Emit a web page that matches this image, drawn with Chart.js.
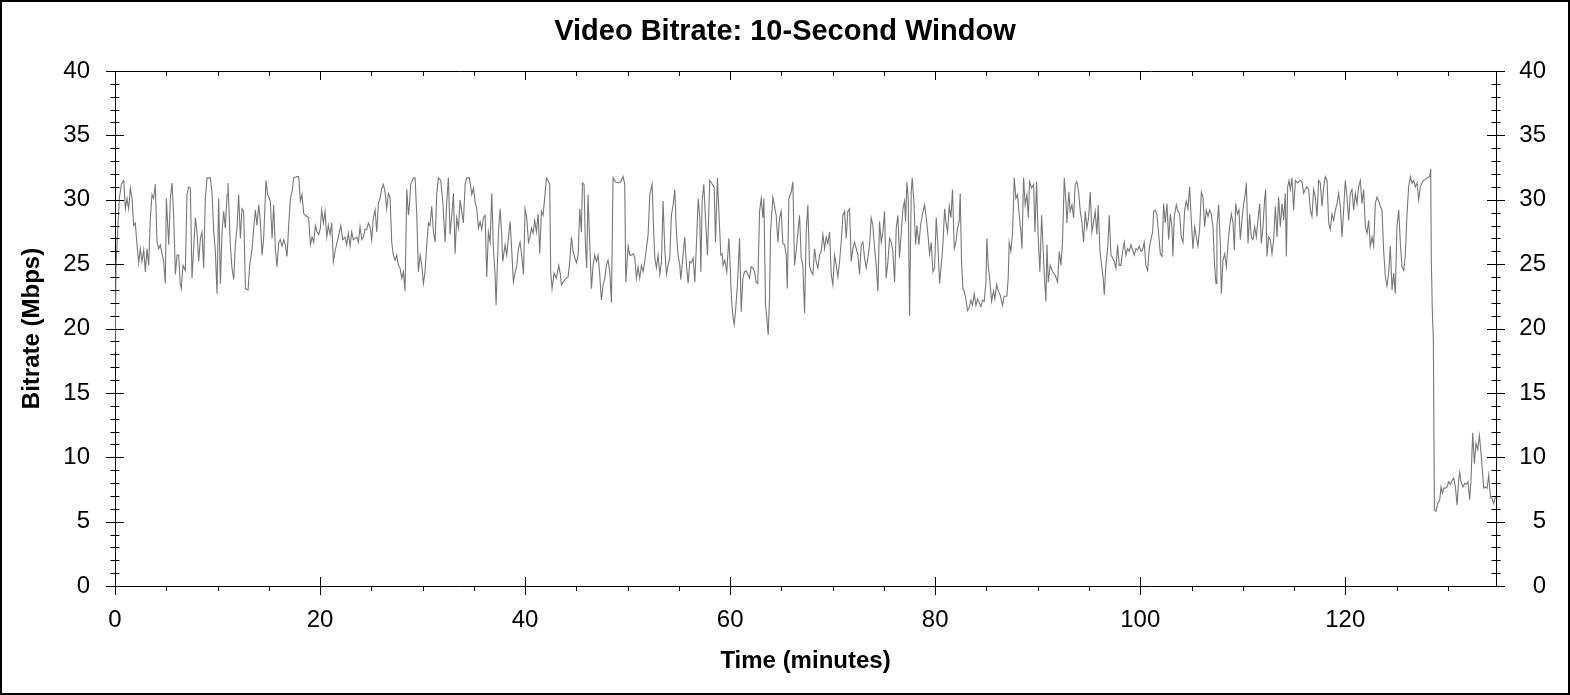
<!DOCTYPE html>
<html>
<head>
<meta charset="utf-8">
<title>Video Bitrate: 10-Second Window</title>
<script src="https://cdn.jsdelivr.net/npm/chart.js@4.4.1/dist/chart.umd.min.js"></script>
<style>
  html, body { margin: 0; padding: 0; background: #fff; }
  canvas { display: block; }
</style>
</head>
<body>
<canvas id="bitrateChart" width="1570" height="695"></canvas>
<script>
// Time axis (minutes) and bitrate samples (Mbps)
const minutes = [
  0.00, 0.10, 0.29, 0.42, 0.62, 0.85, 1.01, 1.17, 1.33, 1.50,
  1.66, 1.82, 1.98, 2.15, 2.31, 2.47, 2.63, 2.80, 2.96, 3.12,
  3.28, 3.45, 3.61, 3.77, 3.93, 4.10, 4.26, 4.42, 4.59, 4.75,
  4.91, 5.01, 5.24, 5.40, 5.56, 5.72, 5.89, 6.05, 6.21, 6.37,
  6.47, 6.63, 6.86, 7.02, 7.19, 7.35, 7.51, 7.67, 7.84, 8.00,
  8.16, 8.33, 8.49, 8.65, 8.81, 8.98, 9.30, 9.46, 9.63, 9.79,
  9.95, 10.11, 10.28, 10.44, 10.60, 10.76, 10.93, 11.02, 11.25, 11.41,
  11.58, 11.74, 11.90, 12.06, 12.23, 12.39, 12.55, 12.72, 12.98, 13.14,
  13.37, 13.53, 13.69, 13.85, 14.02, 14.18, 14.34, 14.50, 14.73, 14.89,
  15.15, 15.32, 15.48, 15.64, 15.80, 15.97, 16.13, 16.29, 16.46, 16.62,
  16.78, 16.94, 17.11, 17.27, 17.43, 17.76, 17.92, 18.08, 18.24, 18.41,
  18.57, 18.89, 19.06, 19.22, 19.38, 19.54, 19.71, 19.87, 20.03,
  // 20 - 40
  20.16, 20.33, 20.49, 20.65, 20.81, 20.98, 21.14, 21.30, 21.46, 21.63,
  21.79, 22.02, 22.21, 22.44, 22.60, 22.76, 22.93, 23.09, 23.25, 23.58,
  23.74, 23.90, 24.07, 24.23, 24.39, 24.55, 24.72, 24.88, 25.04, 25.20,
  25.37, 25.53, 25.69, 25.85, 26.02, 26.18, 26.34, 26.50, 26.67, 26.83,
  26.99, 27.15, 27.32, 27.48, 27.64, 27.80, 27.97, 28.13, 28.29, 28.46,
  28.62, 28.72, 28.85, 29.11, 29.27, 29.43, 29.59, 29.76, 29.92, 30.08,
  30.24, 30.41, 30.57, 30.73, 30.89, 31.06, 31.22, 31.38, 31.54, 31.77,
  31.97, 32.20, 32.36, 32.52, 32.68, 32.85, 33.01, 33.17, 33.33, 33.50,
  33.66, 33.82, 33.98, 34.15, 34.31, 34.57, 34.80, 34.96, 35.12, 35.28,
  35.45, 35.61, 35.77, 35.93, 36.10, 36.26, 36.42, 36.59, 36.75, 36.91,
  37.07, 37.17, 37.40, 37.56, 37.72, 37.82, 38.05, 38.21, 38.37, 38.54,
  38.70, 38.86, 39.02, 39.19, 39.35, 39.51, 39.67, 39.84, 40.00, 40.16,
  40.33,
  // 40 - 60
  40.45, 40.62, 40.78, 40.94, 41.10, 41.27, 41.43, 41.59, 41.75, 41.92,
  42.08, 42.24, 42.40, 42.50, 42.63, 42.83, 43.05, 43.28, 43.44, 43.54,
  43.87, 44.19, 44.36, 44.52, 44.68, 44.84, 45.01, 45.17, 45.33, 45.49,
  45.59, 45.75, 45.88, 46.01, 46.14, 46.31, 46.47, 46.63, 46.79, 46.96,
  47.12, 47.28, 47.44, 47.61, 47.77, 47.93, 48.09, 48.26, 48.42, 48.58,
  48.81, 49.07, 49.33, 49.56, 49.72, 49.82, 50.05, 50.21, 50.37, 50.53,
  50.70, 50.86, 51.02, 51.18, 51.35, 51.51, 51.67, 51.83, 52.00, 52.16,
  52.39, 52.52, 52.65, 52.81, 52.97, 53.14, 53.30, 53.46, 53.62, 53.79,
  53.95, 54.11, 54.27, 54.44, 54.60, 54.76, 54.92, 55.09, 55.18, 55.41,
  55.57, 55.74, 55.90, 56.06, 56.22, 56.39, 56.55, 56.71, 56.88, 57.04,
  57.14, 57.27, 57.43, 57.59, 57.79, 58.01, 58.18, 58.44, 58.57, 58.76,
  58.99, 59.09, 59.22, 59.31, 59.48, 59.67, 59.87, 59.96, 60.13, 60.29,
  60.39, 60.52, 60.71,
  // 60 - 80
  60.92, 61.08, 61.24, 61.40, 61.57, 61.73, 61.89, 62.05, 62.22, 62.38,
  62.54, 62.70, 62.87, 63.03, 63.19, 63.29, 63.45, 63.58, 63.71, 63.84,
  63.94, 64.17, 64.33, 64.49, 64.66, 64.82, 64.98, 65.14, 65.31, 65.47,
  65.57, 65.73, 65.96, 66.12, 66.28, 66.44, 66.61, 66.77, 66.93, 67.09,
  67.26, 67.42, 67.58, 67.74, 67.91, 68.07, 68.23, 68.39, 68.56, 68.72,
  68.88, 69.05, 69.21, 69.37, 69.53, 69.70, 69.86, 70.02, 70.18, 70.35,
  70.51, 70.67, 70.83, 71.00, 71.16, 71.32, 71.48, 71.65, 71.81, 71.97,
  72.13, 72.30, 72.46, 72.62, 72.79, 72.95, 73.11, 73.27, 73.44, 73.60,
  73.76, 73.92, 74.09, 74.25, 74.41, 74.57, 74.74, 74.90, 75.06, 75.22,
  75.39, 75.55, 75.71, 75.87, 76.04, 76.20, 76.36, 76.52, 76.69, 76.85,
  77.01, 77.11, 77.24, 77.37, 77.50, 77.66, 77.76, 77.92, 78.09, 78.22,
  78.41, 78.57, 78.74, 78.96, 79.13, 79.29, 79.45, 79.61, 79.78, 79.94,
  80.10, 80.26, 80.43, 80.59, 80.75, 80.92,
  // 80 - 100
  81.04, 81.21, 81.37, 81.53, 81.69, 81.86, 82.02, 82.18, 82.34, 82.44,
  82.57, 82.70, 82.83, 82.99, 83.16, 83.32, 83.48, 83.64, 83.81, 83.97,
  84.13, 84.29, 84.46, 84.62, 84.78, 84.95, 85.04, 85.17, 85.37, 85.50,
  85.69, 85.82, 85.99, 86.15, 86.34, 86.57, 86.73, 86.99, 87.12, 87.22,
  87.38, 87.55, 87.71, 87.87, 88.03, 88.20, 88.36, 88.46, 88.62, 88.78,
  88.95, 89.08, 89.21, 89.40, 89.60, 89.73, 89.89, 90.05, 90.21, 90.38,
  90.51, 90.64, 90.80, 90.90, 91.03, 91.22, 91.45, 91.68, 91.94, 92.10,
  92.26, 92.42, 92.59, 92.75, 92.85, 93.04, 93.17, 93.34, 93.50, 93.66,
  93.82, 93.99, 94.15, 94.31, 94.47, 94.64, 94.80, 94.96, 95.12, 95.29,
  95.45, 95.61, 95.77, 95.90, 96.07, 96.23, 96.39, 96.49, 96.65, 96.82,
  96.98, 97.14, 97.30, 97.47, 97.63, 97.79, 97.95, 98.12, 98.28, 98.44,
  98.60, 98.77, 98.93, 99.09, 99.25, 99.42, 99.58, 99.74, 99.90, 100.07,
  100.23, 100.39, 100.55, 100.72, 100.88, 101.04, 101.21,
  // 100 - end
  101.31, 101.47, 101.63, 101.79, 101.96, 102.12, 102.28, 102.44, 102.61, 102.77,
  102.93, 103.09, 103.19, 103.32, 103.52, 103.68, 103.84, 104.00, 104.17, 104.33,
  104.49, 104.65, 104.82, 104.95, 105.14, 105.31, 105.47, 105.63, 105.79, 105.96,
  106.12, 106.28, 106.44, 106.61, 106.77, 106.93, 107.09, 107.26, 107.39, 107.48,
  107.65, 107.81, 107.91, 108.07, 108.23, 108.40, 108.56, 108.72, 108.88, 109.05,
  109.18, 109.31, 109.47, 109.63, 109.76, 109.92, 110.09, 110.25, 110.35, 110.51,
  110.67, 110.83, 111.00, 111.16, 111.32, 111.48, 111.65, 111.81, 111.97, 112.13,
  112.23, 112.36, 112.52, 112.69, 112.85, 113.01, 113.18, 113.34, 113.50, 113.66,
  113.83, 113.99, 114.15, 114.25, 114.38, 114.51, 114.64, 114.80, 114.96, 115.13,
  115.35, 115.61, 115.78, 115.94, 116.10, 116.26, 116.43, 116.59, 116.75, 116.91,
  117.08, 117.24, 117.40, 117.56, 117.73, 117.89, 118.05, 118.22, 118.38, 118.54,
  118.70, 118.87, 119.03, 119.19, 119.35, 119.52, 119.68, 119.84, 120.00, 120.17,
  120.33, 120.49, 120.65, 120.82, 120.98, 121.14, 121.30, 121.47, 121.63, 121.79,
  121.96, 122.12, 122.28, 122.44, 122.61, 122.77, 122.93, 123.09, 123.26, 123.42,
  123.58, 123.74, 123.91, 124.07, 124.23, 124.39, 124.56, 124.72, 124.88, 125.04,
  125.21, 125.37, 125.53, 125.70, 125.86, 126.02, 126.18, 126.35, 126.51, 126.67,
  126.83, 127.00, 127.16, 127.32, 127.48, 127.65, 127.97, 128.23, 128.33, 128.39,
  128.49, 128.59, 128.69, 128.85, 129.01, 129.21, 129.34, 129.47, 129.60, 129.76,
  129.92, 130.09, 130.25, 130.41, 130.57, 130.74, 130.90, 131.06, 131.16, 131.32,
  131.48, 131.65, 131.81, 131.97, 132.13, 132.26, 132.43, 132.59, 132.75, 132.91,
  133.08, 133.24, 133.37, 133.50, 133.66, 133.83, 133.99, 134.15, 134.31, 134.47,
  134.64
];

const mbps = [
  18.2, 24.9, 28.0, 30.1, 31.2, 31.5, 29.3, 30.1, 29.3, 30.9,
  30.1, 28.0, 28.2, 26.5, 25.1, 26.2, 25.2, 26.1, 24.4, 26.2,
  24.9, 28.6, 30.4, 30.1, 31.2, 26.7, 26.2, 26.5, 25.8, 25.2,
  23.5, 30.1, 26.5, 30.1, 31.3, 28.8, 24.2, 25.7, 25.7, 23.4,
  23.1, 24.9, 24.5, 30.4, 31.0, 30.9, 23.9, 26.2, 28.6, 27.5,
  25.2, 27.0, 27.5, 24.7, 30.1, 31.7, 31.7, 30.6, 27.5, 26.0,
  22.7, 30.1, 23.5, 27.5, 29.1, 27.8, 30.4, 31.3, 26.5, 24.7,
  23.8, 26.5, 27.8, 30.4, 27.0, 29.3, 29.1, 23.1, 23.0, 24.9,
  26.2, 27.8, 29.2, 28.0, 29.6, 28.3, 25.7, 27.0, 31.5, 30.4,
  29.9, 27.0, 29.6, 26.2, 24.8, 26.7, 26.9, 26.4, 26.9, 26.5,
  25.6, 28.0, 30.1, 30.6, 31.7, 31.8, 31.8, 29.9, 30.4, 28.9,
  28.8, 28.6, 26.5, 27.1, 26.7, 28.0, 27.5, 27.3, 27.8,
  // 20 - 40
  29.2, 28.2, 29.1, 27.1, 28.0, 27.3, 28.2, 25.2, 26.0, 26.6,
  27.1, 28.0, 26.9, 27.1, 26.5, 27.4, 26.4, 27.5, 26.9, 27.1,
  26.7, 27.9, 26.9, 27.1, 27.7, 27.7, 28.2, 27.9, 26.9, 28.6,
  29.2, 27.5, 29.7, 30.1, 30.9, 31.2, 30.6, 29.3, 30.5, 30.2,
  26.7, 25.7, 25.3, 25.7, 24.9, 24.7, 23.9, 24.4, 22.9, 30.8,
  28.8, 29.6, 31.2, 31.7, 31.7, 28.9, 24.4, 25.7, 24.9, 23.5,
  24.4, 26.5, 28.2, 28.0, 29.5, 27.5, 26.7, 30.4, 31.7, 31.5,
  29.9, 26.7, 29.9, 31.7, 27.3, 28.8, 30.5, 25.8, 28.6, 27.8,
  30.0, 29.1, 28.2, 31.2, 31.7, 31.7, 30.4, 30.9, 29.9, 29.3,
  27.8, 28.3, 27.7, 28.6, 28.8, 24.0, 27.5, 26.7, 30.5, 26.2,
  24.2, 21.8, 27.5, 29.3, 27.3, 25.2, 26.5, 25.7, 27.0, 28.3,
  26.0, 23.6, 24.3, 24.9, 26.2, 26.7, 25.7, 24.2, 29.3, 28.6,
  26.7,
  // 40 - 60
  27.0, 27.8, 27.4, 28.4, 27.5, 28.9, 25.8, 29.1, 28.8, 30.2,
  31.7, 31.5, 31.2, 24.4, 23.1, 24.3, 23.9, 24.9, 24.2, 23.4,
  23.8, 24.0, 25.2, 27.1, 26.0, 25.5, 25.1, 25.7, 29.3, 27.5,
  31.3, 31.2, 26.7, 24.7, 30.4, 26.5, 23.1, 24.9, 25.7, 25.2,
  25.7, 24.2, 22.2, 23.4, 23.9, 24.9, 25.3, 24.4, 22.0, 31.7,
  31.4, 31.3, 31.4, 31.8, 31.2, 23.6, 26.4, 25.7, 25.7, 25.8,
  25.5, 23.9, 24.8, 23.9, 24.9, 24.4, 25.2, 26.2, 27.3, 30.4,
  31.2, 28.0, 25.5, 24.7, 25.7, 24.2, 25.2, 29.9, 26.2, 24.2,
  24.9, 25.5, 28.8, 29.6, 30.8, 27.5, 25.7, 24.9, 23.8, 25.7,
  27.1, 24.9, 23.5, 25.2, 25.1, 25.5, 23.6, 26.5, 30.1, 28.6,
  24.4, 29.9, 31.2, 28.6, 25.7, 31.5, 31.3, 31.0, 26.7, 31.7,
  27.5, 25.7, 25.8, 24.9, 25.3, 24.4, 27.0, 25.7, 22.3, 20.8,
  20.3, 21.3, 23.4,
  // 60 - 80
  27.0, 21.3, 23.9, 24.4, 24.5, 24.2, 23.9, 24.8, 24.7, 24.4,
  23.6, 23.5, 29.1, 30.1, 28.6, 30.1, 21.8, 20.8, 19.5, 22.3,
  27.5, 30.2, 29.5, 28.8, 26.7, 28.6, 29.1, 26.6, 26.5, 25.7,
  23.1, 30.1, 30.6, 31.4, 24.9, 26.0, 27.5, 28.8, 25.5, 24.9,
  21.2, 27.5, 29.6, 24.9, 24.4, 24.2, 26.2, 25.2, 24.7, 25.7,
  26.0, 27.3, 26.2, 27.1, 26.6, 27.5, 24.2, 23.4, 25.7, 24.9,
  24.0, 25.2, 26.7, 28.8, 29.1, 27.0, 29.1, 29.3, 25.2, 26.2,
  26.7, 26.2, 25.7, 24.2, 26.5, 26.7, 25.5, 24.7, 25.5, 26.5,
  28.6, 28.0, 26.2, 24.9, 22.9, 28.3, 26.7, 27.5, 29.1, 23.9,
  25.2, 27.0, 26.7, 26.0, 23.6, 27.8, 28.8, 25.5, 27.5, 29.3,
  29.9, 28.3, 31.4, 30.1, 21.0, 30.6, 31.7, 29.9, 26.5, 28.0,
  26.5, 28.0, 28.8, 29.6, 28.6, 27.3, 25.8, 26.7, 24.4, 24.7,
  28.6, 26.5, 23.5, 24.9, 26.5, 29.3,
  // 80 - 100
  28.3, 27.5, 29.5, 28.6, 30.8, 26.2, 26.7, 27.8, 28.3, 30.5,
  25.2, 23.1, 22.9, 22.3, 21.4, 21.6, 22.2, 21.8, 22.7, 21.8,
  22.3, 22.0, 21.7, 22.2, 22.1, 23.6, 27.0, 24.9, 23.4, 22.1,
  22.9, 22.3, 23.4, 22.9, 22.6, 21.8, 22.5, 22.5, 23.9, 26.7,
  26.0, 27.5, 31.7, 30.1, 30.4, 28.8, 27.5, 26.2, 31.7, 29.6,
  30.4, 28.6, 31.4, 30.9, 31.2, 27.5, 31.4, 27.0, 24.4, 28.8,
  26.5, 24.2, 22.1, 26.5, 23.6, 24.9, 24.4, 24.2, 23.6, 26.0,
  24.9, 26.7, 31.7, 29.9, 28.2, 30.6, 29.1, 29.6, 28.6, 31.2,
  31.4, 30.6, 29.1, 28.3, 26.7, 29.1, 27.8, 28.6, 30.6, 27.5,
  28.3, 29.1, 27.3, 29.6, 26.0, 24.9, 23.9, 22.6, 24.9, 26.2,
  28.8, 25.7, 25.5, 25.2, 24.7, 26.5, 24.9, 24.9, 26.0, 26.7,
  25.7, 26.2, 26.0, 26.5, 26.1, 25.7, 26.2, 26.1, 26.4, 26.0,
  26.1, 26.7, 24.9, 24.5, 26.2, 26.9, 27.5,
  // 100 - end
  29.1, 29.2, 28.8, 27.4, 25.8, 25.6, 29.7, 28.2, 29.7, 26.9,
  28.9, 27.9, 25.6, 28.7, 29.6, 29.1, 28.9, 27.1, 26.7, 29.2,
  29.9, 29.3, 31.0, 28.9, 26.2, 27.9, 27.1, 26.4, 27.7, 30.6,
  30.2, 27.9, 29.2, 28.7, 29.2, 28.9, 27.9, 24.8, 23.5, 27.9,
  29.6, 26.6, 22.7, 25.3, 25.8, 24.8, 26.6, 27.9, 28.9, 28.2,
  26.1, 29.7, 28.9, 29.2, 26.9, 28.4, 29.7, 30.5, 31.3, 26.6,
  28.9, 27.1, 26.9, 27.9, 27.1, 28.4, 29.7, 26.6, 27.9, 30.0,
  30.8, 25.6, 27.1, 26.9, 25.8, 26.9, 29.5, 27.1, 30.2, 27.9,
  29.7, 28.4, 30.5, 25.6, 31.0, 31.5, 30.8, 31.7, 29.2, 31.5,
  31.3, 31.5, 31.4, 30.5, 30.8, 31.0, 30.8, 29.2, 28.7, 30.8,
  30.2, 28.7, 31.5, 31.3, 29.5, 31.0, 31.8, 31.5, 28.2, 27.7,
  28.9, 28.4, 29.2, 29.7, 30.5, 29.5, 27.1, 29.2, 31.5, 30.2,
  28.4, 30.5, 30.8, 29.2, 30.5, 29.7, 31.0, 31.5, 29.7, 30.8,
  27.9, 27.4, 28.4, 26.4, 27.1, 26.4, 29.7, 30.2, 29.9, 29.5,
  29.2, 26.1, 24.0, 23.3, 24.3, 26.4, 23.0, 24.3, 22.7, 27.9,
  29.2, 26.6, 24.8, 24.5, 25.8, 28.9, 31.0, 31.8, 31.3, 31.5,
  31.0, 31.3, 30.0, 31.0, 31.3, 31.5, 31.7, 31.8, 32.4, 25.3,
  21.4, 19.1, 5.9, 5.8, 6.4, 6.7, 7.7, 7.2, 7.6, 7.6,
  7.7, 8.1, 7.9, 8.2, 8.4, 7.7, 6.3, 8.2, 8.8, 8.0,
  7.7, 8.0, 7.9, 8.1, 6.7, 8.2, 11.9, 9.5, 11.1, 10.6,
  11.7, 10.3, 9.0, 7.6, 7.7, 7.6, 8.6, 6.9, 6.8, 6.4,
  6.9
];

const xTickLabels = [0, 20, 40, 60, 80, 100, 120];
const yTickLabels = [0, 5, 10, 15, 20, 25, 30, 35, 40];
const xMax = 134.7;

const FONT = "'Liberation Sans', Arial, sans-serif";

// white page + outer frame
const pageFrame = {
  id: 'pageFrame',
  beforeDraw(chart) {
    const ctx = chart.ctx;
    ctx.save();
    ctx.fillStyle = '#fff';
    ctx.fillRect(0, 0, chart.width, chart.height);
    ctx.restore();
  },
  afterDraw(chart) {
    const ctx = chart.ctx;
    ctx.save();
    ctx.strokeStyle = '#000';
    ctx.lineWidth = 2;
    ctx.strokeRect(1, 1, chart.width - 2, chart.height - 2);
    ctx.restore();
  }
};

// tick marks on all four sides, plus the right-hand labels (right aligned)
const axisTicks = {
  id: 'axisTicks',
  afterDraw(chart) {
    const { ctx, chartArea: a } = chart;
    const x = chart.scales.x, y = chart.scales.yRight;
    ctx.save();
    ctx.strokeStyle = '#000';
    ctx.lineWidth = 1;
    ctx.beginPath();
    for (let v = 0; v <= 40; v++) {
      const py = Math.round(y.getPixelForValue(v)) + 0.5;
      const len = v % 5 === 0 ? 9 : 4.5;
      ctx.moveTo(a.left - len, py); ctx.lineTo(a.left + len, py);
      ctx.moveTo(a.right - len, py); ctx.lineTo(a.right + len, py);
    }
    for (let m = 0; m <= xMax; m += 5) {
      const px = Math.round(x.getPixelForValue(m)) + 0.5;
      const major = m % 20 === 0;
      ctx.moveTo(px, a.bottom - (major ? 9 : 0)); ctx.lineTo(px, a.bottom + (major ? 9 : 5));
      ctx.moveTo(px, a.top); ctx.lineTo(px, a.top + (major ? 9 : 5));
    }
    ctx.stroke();

    ctx.fillStyle = '#000';
    ctx.font = '24px ' + FONT;
    ctx.textAlign = 'right';
    ctx.textBaseline = 'middle';
    yTickLabels.forEach(v => {
      ctx.fillText(String(v), a.right + 50, y.getPixelForValue(v));
    });
    ctx.restore();
  }
};

const edge = { display: true, color: '#000', width: 1 };
const noGrid = { display: false, drawTicks: false };

new Chart(document.getElementById('bitrateChart'), {
  type: 'line',
  data: {
    datasets: [{
      data: minutes.map((m, i) => ({ x: m, y: mbps[i] })),
      borderColor: '#777777',
      borderWidth: 1.1,
      pointRadius: 0,
      tension: 0,
      fill: false
    }]
  },
  options: {
    responsive: false,
    animation: false,
    devicePixelRatio: 1,
    layout: { padding: 0 },
    plugins: {
      legend: { display: false },
      tooltip: { enabled: false },
      title: {
        display: true,
        text: 'Video Bitrate: 10-Second Window',
        color: '#000',
        font: { family: FONT, size: 29, weight: 'bold', lineHeight: 1.2 },
        padding: { top: 15, bottom: 0 }
      }
    },
    scales: {
      x: {
        type: 'linear',
        position: 'bottom',
        min: 0,
        max: xMax,
        grid: noGrid,
        border: edge,
        afterBuildTicks: s => { s.ticks = xTickLabels.map(v => ({ value: v })); },
        afterFit: s => { s.height = 109; },
        ticks: { color: '#000', padding: 20, maxRotation: 0, font: { family: FONT, size: 24 } },
        title: {
          display: true,
          text: 'Time (minutes)',
          color: '#000',
          font: { family: FONT, size: 24, weight: 'bold' },
          padding: { top: 0, bottom: 19 }
        }
      },
      xTop: {
        type: 'linear',
        position: 'top',
        min: 0,
        max: xMax,
        grid: noGrid,
        border: edge,
        ticks: { display: false },
        afterFit: s => { s.height = 71 - 49.8; }
      },
      y: {
        type: 'linear',
        position: 'left',
        min: 0,
        max: 40,
        grid: noGrid,
        border: edge,
        afterBuildTicks: s => { s.ticks = yTickLabels.map(v => ({ value: v })); },
        afterFit: s => { s.width = 115; },
        ticks: { color: '#000', padding: 25, font: { family: FONT, size: 24 } },
        title: {
          display: true,
          text: 'Bitrate (Mbps)',
          color: '#000',
          font: { family: FONT, size: 24, weight: 'bold' },
          padding: { top: 18, bottom: 0 }
        }
      },
      yRight: {
        type: 'linear',
        position: 'right',
        min: 0,
        max: 40,
        grid: noGrid,
        border: edge,
        ticks: { display: false },
        afterFit: s => { s.width = 74; }
      }
    }
  },
  plugins: [pageFrame, axisTicks]
});
</script>
</body>
</html>
